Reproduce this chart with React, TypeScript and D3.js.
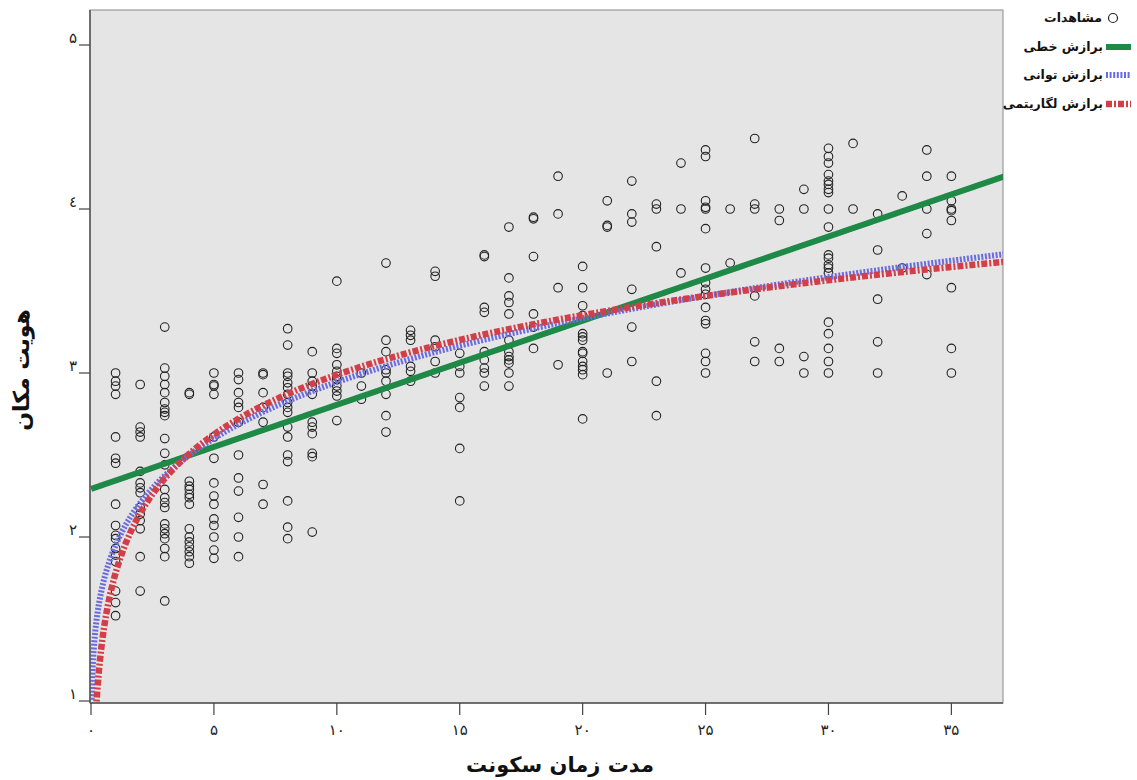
import React from "react";
import * as d3 from "d3";

const W = 1137;
const H = 780;

// years of residence (x) and the place-identity scores seen at each year (y)
const residenceYears = [
  1, 2, 3, 4, 5, 6, 7, 8, 9, 10, 11, 12, 13, 14, 15, 16, 17, 18,
  19, 20, 21, 22, 23, 24, 25, 26, 27, 28, 29, 30, 31, 32, 33, 34, 35,
];
const identityScores: number[][] = [
  [3.0, 2.95, 2.92, 2.87, 2.61, 2.48, 2.45, 2.2, 2.07, 2.01, 1.99, 1.93, 1.89, 1.85, 1.67, 1.6, 1.52],
  [2.93, 2.67, 2.64, 2.61, 2.4, 2.33, 2.3, 2.27, 2.18, 2.14, 2.1, 2.05, 1.88, 1.67],
  [3.28, 3.03, 2.98, 2.93, 2.88, 2.82, 2.78, 2.76, 2.74, 2.6, 2.51, 2.44, 2.29, 2.24, 2.21, 2.18, 2.08, 2.05, 2.02, 1.99, 1.93, 1.88, 1.61],
  [2.88, 2.87, 2.34, 2.31, 2.29, 2.26, 2.24, 2.2, 2.05, 2.0, 1.97, 1.94, 1.91, 1.88, 1.84],
  [3.0, 2.93, 2.92, 2.87, 2.61, 2.48, 2.33, 2.25, 2.2, 2.11, 2.07, 2.0, 1.92, 1.87],
  [3.0, 2.96, 2.88, 2.82, 2.79, 2.7, 2.5, 2.36, 2.28, 2.12, 2.0, 1.88],
  [3.0, 2.99, 2.88, 2.79, 2.7, 2.32, 2.2],
  [3.27, 3.17, 3.0, 2.98, 2.94, 2.91, 2.87, 2.82, 2.79, 2.76, 2.67, 2.61, 2.5, 2.46, 2.22, 2.06, 1.99],
  [3.13, 3.0, 2.95, 2.92, 2.87, 2.7, 2.67, 2.63, 2.51, 2.49, 2.03],
  [3.56, 3.15, 3.12, 3.05, 3.01, 2.98, 2.96, 2.92, 2.89, 2.86, 2.71],
  [3.0, 2.92, 2.84],
  [3.67, 3.2, 3.13, 3.02, 3.0, 2.95, 2.87, 2.74, 2.64],
  [3.26, 3.23, 3.2, 3.04, 3.01, 2.95],
  [3.62, 3.59, 3.2, 3.16, 3.07, 3.0],
  [3.12, 3.04, 3.0, 2.85, 2.79, 2.54, 2.22],
  [3.72, 3.71, 3.4, 3.37, 3.13, 3.08, 3.03, 3.0, 2.92],
  [3.89, 3.58, 3.47, 3.43, 3.36, 3.2, 3.13, 3.1, 3.08, 3.06, 3.0, 2.92],
  [3.95, 3.94, 3.71, 3.36, 3.28, 3.15],
  [4.2, 3.97, 3.52, 3.05],
  [3.65, 3.52, 3.41, 3.35, 3.24, 3.22, 3.2, 3.13, 3.12, 3.07, 3.04, 3.02, 2.99, 2.72],
  [4.05, 3.9, 3.89, 3.0],
  [4.17, 3.97, 3.92, 3.51, 3.28, 3.07],
  [4.03, 4.0, 3.77, 2.95, 2.74],
  [4.28, 4.0, 3.61],
  [4.36, 4.32, 4.05, 4.01, 4.0, 3.88, 3.64, 3.55, 3.51, 3.48, 3.4, 3.32, 3.3, 3.12, 3.07, 3.0],
  [4.0, 3.67],
  [4.43, 4.03, 4.0, 3.47, 3.19, 3.07],
  [4.0, 3.93, 3.15, 3.07],
  [4.12, 4.0, 3.1, 3.0],
  [4.37, 4.32, 4.28, 4.21, 4.17, 4.15, 4.12, 4.1, 4.0, 3.89, 3.72, 3.7, 3.66, 3.64, 3.61, 3.31, 3.24, 3.15, 3.07, 3.0],
  [4.4, 4.0],
  [3.97, 3.75, 3.45, 3.19, 3.0],
  [4.08, 3.64],
  [4.36, 4.2, 4.0, 3.85, 3.6],
  [4.2, 4.05, 4.0, 3.99, 3.93, 3.52, 3.15, 3.0],
];

const xTicks = [0, 5, 10, 15, 20, 25, 30, 35];
const xTickLabels = ["۰", "۵", "۱۰", "۱۵", "۲۰", "۲۵", "۳۰", "۳۵"];
const yTicks = [1, 2, 3, 4, 5];
const yTickLabels = ["۱", "۲", "۳", "٤", "۵"];

// fitted curves
const linearFit = { intercept: 2.293, slope: 0.0513 };
const powerFit = { a: 1.95, b: 0.179 };
const logFit = { a: 1.78, b: 0.525 };

const legendLabels = ["مشاهدات", "برازش خطی", "برازش توانی", "برازش لگاریتمی"];
const xTitle = "مدت زمان سکونت";
const yTitle = "هویت مکان";

const GREEN = "#1f8a47";
const BLUE = "#6b6be0";
const RED = "#d33f49";
const FONT = "'DejaVu Sans', sans-serif";

export default function App() {
  const left = 91;
  const right = 1003;
  const top = 10;
  const bottom = 703;

  const x = d3.scaleLinear().domain([0, 37.1]).range([left, right]);
  const y = d3.scaleLinear().domain([1, 5]).range([701, 45]);

  // sample positions along x for the fitted curves
  const xs = d3.range(0.005, 37.2, 0.02);
  const mkPath = (f: (t: number) => number) =>
    d3
      .line<number>()
      .x((t) => x(t))
      .y((t) => y(f(t)))(xs.filter((t) => f(t) > 0.9)) || "";

  const linPath = mkPath((t) => linearFit.intercept + linearFit.slope * t);
  const powPath = mkPath((t) => powerFit.a * Math.pow(t, powerFit.b));
  const logPath = mkPath((t) => logFit.a + logFit.b * Math.log(t));

  const points: { px: number; py: number }[] = [];
  residenceYears.forEach((yr, i) => {
    identityScores[i].forEach((v) => points.push({ px: x(yr), py: y(v) }));
  });

  const legendX = 1131;
  const swatchW = 25;

  return (
    <svg
      width={W}
      height={H}
      style={{ position: "absolute", left: 0, top: 0, background: "#fff" }}
    >
      <defs>
        <clipPath id="plotClip">
          <rect x={left - 1} y={top} width={right - left + 1} height={bottom - top} />
        </clipPath>
      </defs>

      <rect x={left - 1} y={top} width={right - left + 1} height={bottom - top} fill="#e5e5e5" stroke="#8a8a8a" strokeWidth={1} />

      <g clipPath="url(#plotClip)">
        {points.map((p, i) => (
          <circle key={i} cx={p.px} cy={p.py} r={4.3} fill="none" stroke="#222" strokeWidth={1.1} />
        ))}
        <path d={linPath} fill="none" stroke={GREEN} strokeWidth={6} />
        <path d={powPath} fill="none" stroke={BLUE} strokeWidth={6} strokeDasharray="2,1.6" />
        <path d={logPath} fill="none" stroke={RED} strokeWidth={6.5} strokeDasharray="6,2,2,2" />
      </g>

      {/* axes */}
      <line x1={left - 1} x2={left - 1} y1={top} y2={bottom} stroke="#555" strokeWidth={1.5} />
      <line x1={left - 1} x2={right} y1={bottom} y2={bottom} stroke="#555" strokeWidth={1.5} />

      {xTicks.map((t, i) => (
        <g key={t}>
          <line x1={x(t)} x2={x(t)} y1={bottom} y2={bottom + 12} stroke="#444" strokeWidth={1.2} />
          <text x={x(t)} y={bottom + 32} textAnchor="middle" fontFamily={FONT} fontSize={15} fill="#222">
            {xTickLabels[i]}
          </text>
        </g>
      ))}
      {yTicks.map((t, i) => (
        <g key={t}>
          <line x1={left - 12} x2={left - 1} y1={y(t)} y2={y(t)} stroke="#444" strokeWidth={1.2} />
          <text x={left - 14} y={y(t) - 2} textAnchor="end" fontFamily={FONT} fontSize={15} fill="#222">
            {yTickLabels[i]}
          </text>
        </g>
      ))}

      <text x={560} y={772} textAnchor="middle" fontFamily={FONT} fontSize={21} fontWeight="bold" fill="#111">
        {xTitle}
      </text>
      <text
        transform="translate(29,370) rotate(-90)"
        textAnchor="middle"
        fontFamily={FONT}
        fontSize={22}
        fontWeight="bold"
        fill="#111"
      >
        {yTitle}
      </text>

      {/* legend */}
      <g fontFamily={FONT} fontSize={12.5} fontWeight="bold" fill="#111">
        <circle cx={1113} cy={18} r={4.5} fill="none" stroke="#222" strokeWidth={1.2} />
        <text x={1102} y={22} textAnchor="end">{legendLabels[0]}</text>

        <line x1={legendX - swatchW} x2={legendX} y1={47} y2={47} stroke={GREEN} strokeWidth={6} />
        <text x={legendX - swatchW - 3} y={51} textAnchor="end">{legendLabels[1]}</text>

        <line x1={legendX - swatchW} x2={legendX} y1={75} y2={75} stroke={BLUE} strokeWidth={6} strokeDasharray="2,1.6" />
        <text x={legendX - swatchW - 3} y={79} textAnchor="end">{legendLabels[2]}</text>

        <line x1={legendX - swatchW} x2={legendX} y1={104} y2={104} stroke={RED} strokeWidth={6.5} strokeDasharray="6,2,2,2" />
        <text x={legendX - swatchW - 3} y={108} textAnchor="end">{legendLabels[3]}</text>
      </g>
    </svg>
  );
}
